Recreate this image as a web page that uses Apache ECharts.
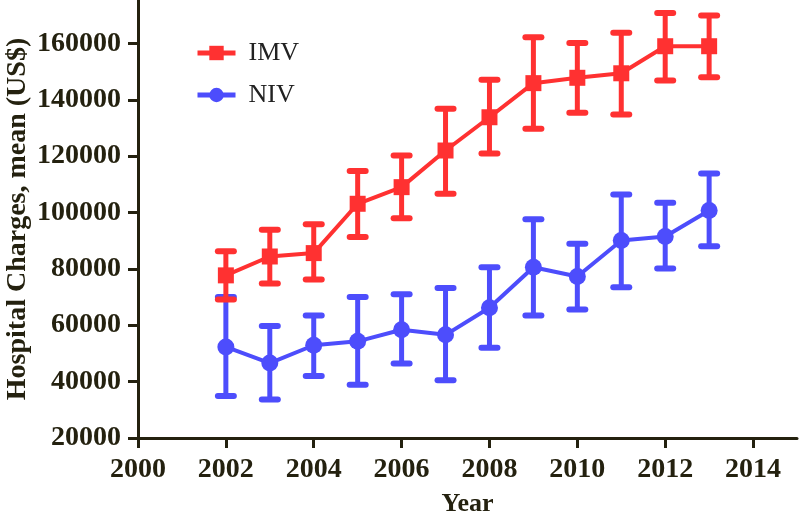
<!DOCTYPE html>
<html>
<head>
<meta charset="utf-8">
<script src="https://cdn.jsdelivr.net/npm/echarts@6/dist/echarts.min.js"></script>
<style>html,body{margin:0;padding:0;background:#fff}#c{width:800px;height:514px}</style>
</head>
<body>
<div id="c"></div>
<script>
const years = [2002, 2003, 2004, 2005, 2006, 2007, 2008, 2009, 2010, 2011, 2012, 2013];
const imvMean = [77700, 84400, 85600, 103100, 109000, 122000, 133800, 145900, 147800, 149400, 159000, 159000];
const imvLow  = [69100, 74800, 76200, 91300, 98000, 106700, 120900, 129700, 135400, 134800, 146800, 148000];
const imvHigh = [86300, 93900, 95800, 114700, 120200, 136800, 147100, 162200, 160100, 163800, 170800, 169900];
const nivMean = [52300, 46600, 52900, 54300, 58400, 56600, 66200, 80600, 77300, 90100, 91500, 100700];
const nivLow  = [34900, 33700, 42000, 38900, 46400, 40500, 52000, 63500, 65600, 73500, 80100, 88000];
const nivHigh = [70000, 59700, 63500, 70000, 71000, 73200, 80600, 97600, 88900, 106400, 103500, 113800];
const xTicks = [2000, 2002, 2004, 2006, 2008, 2010, 2012, 2014];
const yTicks = [20000, 40000, 60000, 80000, 100000, 120000, 140000, 160000];

const RED = '#ff3131';
const BLUE = '#4d4dfc';
const INK = '#24210f';
const FONT = '"Liberation Serif", "Times New Roman", serif';

function errData(lo, hi) { return years.map((y, i) => [y, lo[i], hi[i]]); }
function lineData(m) { return years.map((y, i) => [y, m[i]]); }

function errRender(color) {
  return function (params, api) {
    const x = api.value(0);
    const pLo = api.coord([x, api.value(1)]);
    const pHi = api.coord([x, api.value(2)]);
    const hw = 8;
    return {
      type: 'group',
      children: [
        { type: 'line', shape: { x1: pLo[0], y1: pLo[1], x2: pHi[0], y2: pHi[1] }, style: { stroke: color, lineWidth: 5 } },
        { type: 'line', shape: { x1: pHi[0] - hw, y1: pHi[1], x2: pHi[0] + hw, y2: pHi[1] }, style: { stroke: color, lineWidth: 6, lineCap: 'round' } },
        { type: 'line', shape: { x1: pLo[0] - hw, y1: pLo[1], x2: pLo[0] + hw, y2: pLo[1] }, style: { stroke: color, lineWidth: 6, lineCap: 'round' } }
      ]
    };
  };
}

const chart = echarts.init(document.getElementById('c'), null, { renderer: 'canvas' });
chart.setOption({
  animation: false,
  backgroundColor: '#fff',
  grid: { left: 138, right: 3, top: 0, bottom: 76, containLabel: false, outerBoundsMode: 'none' },
  legend: {
    data: ['IMV', 'NIV'],
    orient: 'vertical',
    left: 190,
    top: 35,
    itemWidth: 38,
    itemHeight: 18,
    itemGap: 16,
    lineStyle: { width: 5 },
    textStyle: { fontFamily: FONT, fontSize: 26, color: '#222', padding: [0, 0, 0, 8] }
  },
  xAxis: {
    type: 'value',
    min: 2000,
    max: 2015,
    interval: 2,
    name: 'Year',
    nameLocation: 'middle',
    nameGap: 53,
    nameMoveOverlap: false,
    nameTextStyle: { fontFamily: FONT, fontSize: 26, fontWeight: 'bold', color: INK },
    axisLine: { lineStyle: { color: INK, width: 3 } },
    axisTick: { show: true, length: 10, lineStyle: { color: INK, width: 3 }, customValues: xTicks },
    axisLabel: { fontFamily: FONT, fontSize: 28, fontWeight: 'bold', color: INK, margin: 18, customValues: xTicks, formatter: v => String(v) },
    splitLine: { show: false }
  },
  yAxis: {
    type: 'value',
    min: 20000,
    max: 175400,
    interval: 20000,
    name: 'Hospital Charges, mean (US$)',
    nameLocation: 'middle',
    nameGap: 106,
    nameRotate: 90,
    nameMoveOverlap: false,
    nameTextStyle: { fontFamily: FONT, fontSize: 28, fontWeight: 'bold', color: INK },
    axisLine: { lineStyle: { color: INK, width: 3 } },
    axisTick: { show: true, length: 10, lineStyle: { color: INK, width: 3 }, customValues: yTicks },
    axisLabel: { fontFamily: FONT, fontSize: 28, fontWeight: 'bold', color: INK, margin: 17, customValues: yTicks, formatter: v => String(v) },
    splitLine: { show: false }
  },
  series: [
    {
      name: 'NIV err', type: 'custom', z: 2,
      renderItem: errRender(BLUE),
      encode: { x: 0, y: [1, 2] },
      data: errData(nivLow, nivHigh)
    },
    {
      name: 'NIV', type: 'line', z: 3,
      data: lineData(nivMean),
      symbol: 'circle', symbolSize: 17,
      color: BLUE,
      itemStyle: { color: BLUE },
      lineStyle: { color: BLUE, width: 4 }
    },
    {
      name: 'IMV err', type: 'custom', z: 4,
      renderItem: errRender(RED),
      encode: { x: 0, y: [1, 2] },
      data: errData(imvLow, imvHigh)
    },
    {
      name: 'IMV', type: 'line', z: 5,
      data: lineData(imvMean),
      symbol: 'rect', symbolSize: 16,
      color: RED,
      itemStyle: { color: RED },
      lineStyle: { color: RED, width: 4 }
    }
  ]
});
</script>
</body>
</html>
